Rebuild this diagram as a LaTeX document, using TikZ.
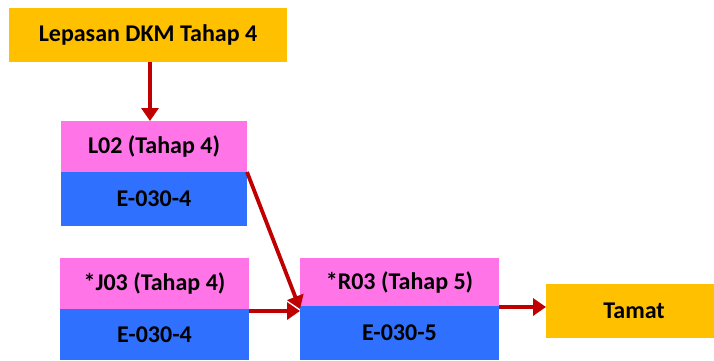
\documentclass[tikz,border=0pt]{standalone}
\usepackage{fontspec}
\setmainfont{Carlito}
\usetikzlibrary{arrows.meta}
\definecolor{gold}{HTML}{FFC000}
\definecolor{pinkbox}{HTML}{FF75E8}
\definecolor{bluebox}{HTML}{2F70FF}
\definecolor{arrowred}{HTML}{C00000}
\tikzset{
  box/.style={inner sep=0pt,outer sep=0pt,font=\fontsize{24}{28}\selectfont\bfseries},
  tahap/.style={box,fill=pinkbox},
  kod/.style={box,fill=bluebox},
  mula/.style={box,fill=gold},
  arr/.style={draw=arrowred,line width=3.8pt,-{Triangle[length=13pt,width=17pt]}}
}
\begin{document}
\begin{tikzpicture}[x=1pt,y=-1pt]
  \useasboundingbox (0,0) rectangle (714,360);
  \node[mula,minimum width=278pt,minimum height=54pt] (lepasan) at (148,35) {Lepasan DKM Tahap 4};
  \node[tahap,minimum width=186pt,minimum height=51pt] (l02) at (154,146.5) {L02 (Tahap 4)};
  \node[kod,minimum width=186pt,minimum height=54pt,anchor=north] (l02e) at (l02.south) {E-030-4};
  \node[tahap,minimum width=189pt,minimum height=51pt] (j03) at (154.5,283.5) {*J03 (Tahap 4)};
  \node[kod,minimum width=189pt,minimum height=51pt,anchor=north] (j03e) at (j03.south) {E-030-4};
  \node[tahap,minimum width=199pt,minimum height=48pt] (r03) at (399.5,282) {*R03 (Tahap 5)};
  \node[kod,minimum width=199pt,minimum height=54pt,anchor=north] (r03e) at (r03.south) {E-030-5};
  \node[mula,minimum width=176pt,minimum height=54pt] (tamat) at (634,311) {Tamat};

  \draw[arr] (lepasan.south -| 150,0) -- (l02.north -| 150,0);
  \draw[arr] (l02.south east) -- ([yshift=-3pt]r03.south west);
  \draw[arr] ([yshift=-2pt]j03.south east) -- ([yshift=-2pt]j03.south east -| r03.west);
  \draw[arr] ([yshift=-1pt]r03.south east) -- ([yshift=-1pt]r03.south east -| tamat.west);
\end{tikzpicture}
\end{document}
